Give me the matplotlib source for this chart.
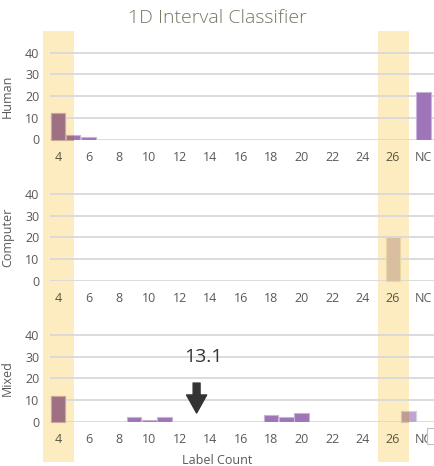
import numpy as np
import matplotlib
matplotlib.use("Agg")
import matplotlib.pyplot as plt
import matplotlib.colors as mcolors
import matplotlib.transforms as mtransforms
from matplotlib.patches import Rectangle

plt.rcParams["font.family"] = ["Open Sans", "DejaVu Sans"]

# label counts 4..27, then "NC" (not classified)
categories = [str(c) for c in range(4, 28)] + ["NC"]
human = [12, 2, 1, 0, 0, 0, 0, 0, 0, 0, 0, 0, 0, 0, 0, 0, 0, 0, 0, 0, 0, 0, 0, 0, 22]
computer = [0, 0, 0, 0, 0, 0, 0, 0, 0, 0, 0, 0, 0, 0, 0, 0, 0, 0, 0, 0, 0, 0, 20, 0, 0]
mixed = [12, 0, 0, 0, 0, 2, 1, 2, 0, 0, 0, 0, 0, 0, 3, 2, 4, 0, 0, 0, 0, 0, 0, 5, 0]
panel_names = ["Human", "Computer", "Mixed"]
highlight = ["4", "26"]
mixed_mean = 13.1

PURPLE = np.array(mcolors.to_rgb("#7f4aa3"))
YELLOW = np.array(mcolors.to_rgb("#fdecc0"))
TINT = np.array([1.0, 0.95, 0.70])   # how the strip darkens what lies under it
GRID = "#d9d9d9"
TXT = "#595959"
# bar opacity per panel
shade_alpha = {"Human": [0.76] * 25, "Computer": [0.3] * 25,
               "Mixed": [0.76] * 23 + [0.5, 0.76]}

W, H = 434, 466
fig = plt.figure(figsize=(W / 100, H / 100), dpi=100)

x = np.arange(len(categories))
unit = 15.23
left_px = 50.4
x0 = -0.5
x1 = x0 + (W - left_px) / unit
bottoms = [139.5, 280.7, 421.7]
ytop = 44
ppu = 2.17

def shade(a):
    return 1 - a * (1 - PURPLE)

bands = [(categories.index(h) - 1.0, categories.index(h) + 1.05) for h in highlight]

axes = []
for name, vals, bpx in zip(panel_names, [human, computer, mixed], bottoms):
    ax = fig.add_axes([left_px / W, 1 - bpx / H, 1 - left_px / W, ytop * ppu / H])
    ax.patch.set_visible(False)
    vals = np.array(vals)
    keep = vals > 0
    alphas = np.array(shade_alpha[name])[keep]
    fills = [shade(a) for a in alphas]
    edges = [shade(a * 0.55) for a in alphas]
    ax.bar(x[keep], vals[keep], width=0.95, color=fills, edgecolor=edges,
           linewidth=0.8, zorder=3)
    for lo, hi in bands:
        clip = Rectangle((lo, -10), hi - lo, 200, transform=ax.transData)
        bb = ax.bar(x[keep], vals[keep], width=0.95,
                    color=[f * TINT for f in fills],
                    edgecolor=[e * TINT for e in edges],
                    linewidth=0.8, zorder=4)
        for p in bb:
            p.set_clip_path(clip)
    ax.set_xlim(x0, x1)
    ax.set_ylim(0, ytop)
    ax.set_yticks([0, 10, 20, 30, 40])
    ax.yaxis.grid(True, color=GRID, linewidth=1.3, zorder=1)
    ax.set_axisbelow(True)
    for s in ax.spines.values():
        s.set_visible(False)
    ax.set_xticks(x[::2])
    ax.set_xticklabels(categories[::2])
    ax.tick_params(length=0, labelsize=9, colors=TXT)
    ax.tick_params(axis="x", pad=8.2)
    ax.tick_params(axis="y", pad=8.0)
    for t in ax.get_xticklabels():
        if t.get_text() in highlight:
            t.set_color(np.array(mcolors.to_rgb(TXT)) * TINT)
    ax.set_ylabel(name, fontsize=9, color=TXT)
    ax.yaxis.set_label_coords((14 - left_px) / unit / (x1 - x0), 20 / ytop)
    axes.append(ax)

# yellow highlight strips running through all three panels
blend = mtransforms.blended_transform_factory(axes[-1].transData, fig.transFigure)
for lo, hi in bands:
    fig.add_artist(Rectangle((lo, 1 - 462 / H), hi - lo, (462 - 31) / H,
                             transform=blend, facecolor=YELLOW, edgecolor="none",
                             zorder=-1))

# mean label count marker on the mixed panel
ax = axes[2]
mx = mixed_mean - 4
ax.annotate("", xy=(mx, 4), xytext=(mx, 17.8),
            arrowprops=dict(arrowstyle="simple,head_length=1.3,head_width=1.45,tail_width=0.5",
                            mutation_scale=10, color="#333333", shrinkA=0, shrinkB=0),
            zorder=6)
ax.text(mx + 0.45, 29.8, f"{mixed_mean:.1f}", ha="center", va="center",
        fontsize=14, color="#333333")

fig.add_artist(Rectangle((427 / W, 1 - 444 / H), 13 / W, 16 / H,
                         transform=fig.transFigure, facecolor="white",
                         edgecolor="#bfbfbf", linewidth=0.8, zorder=10))

fig.text(0.5, 1 - 18 / H, "1D Interval Classifier", ha="center", va="center",
         fontsize=14, color="#6f7a61", fontweight="light")
fig.text(0.5, 1 - 460 / H, "Label Count", ha="center", va="center",
         fontsize=9, color=TXT)

fig.savefig("out.png", dpi=100)
